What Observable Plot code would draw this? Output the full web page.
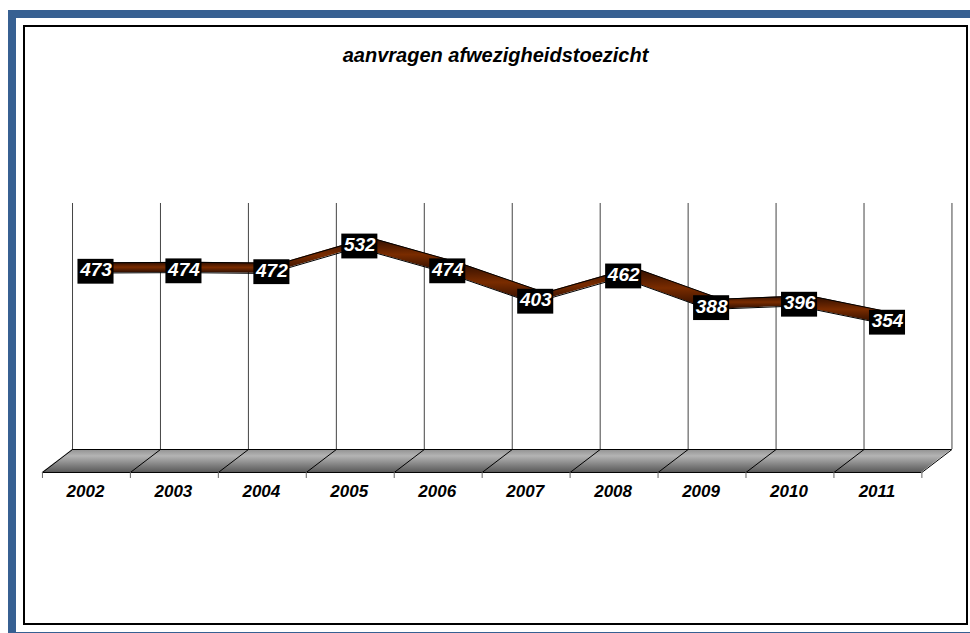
<!DOCTYPE html>
<html><head><meta charset="utf-8">
<script src="https://cdn.jsdelivr.net/npm/d3@7"></script>
<script src="https://cdn.jsdelivr.net/npm/@observablehq/plot@0.6"></script>
<style>
html,body{margin:0;padding:0;background:#fff;width:970px;height:633px;overflow:hidden;font-family:"Liberation Sans",Arial,sans-serif}
.b{position:absolute;background:#376092}
#frame{position:absolute;left:23px;top:25px;width:941px;height:596px;border:2px solid #000}
#title{position:absolute;left:23px;width:945px;top:44px;text-align:center;font:italic bold 20px "Liberation Sans",Arial,sans-serif;color:#000}
svg{position:absolute;left:0;top:0;background:transparent}
</style></head><body>
<div class="b" style="left:8px;top:10px;width:8px;height:623px"></div>
<div class="b" style="left:8px;top:10px;width:962px;height:8px"></div>
<div class="b" style="left:8px;top:632px;width:962px;height:1px"></div>
<div id="frame"></div>
<div id="title">aanvragen afwezigheidstoezicht</div>
<div id="chart"></div>
<script>
const years = [2002,2003,2004,2005,2006,2007,2008,2009,2010,2011];
const values = [473,474,472,532,474,403,462,388,396,354];

// depth of the pseudo-3D box, in scale units
const backX = -0.267, frontX = -0.609, labelX = -0.12;
const ribbonFrontX = -0.03, ribbonBackX = 0.11, ribbonFrontY = -3, ribbonBackY = 21;
const floorFront = 4, floorBack = 57.7, wallTop = 632.5, tickEnd = -10;
const labelW = 0.205, labelH = 29;

const edges = [...years, years[years.length-1]+1];
const segs = [];
for (let i=0;i<years.length-1;i++){
  for (const j of [i,i+1]) segs.push({s:i,x1:years[j]+ribbonFrontX,y1:values[j]+ribbonFrontY,x2:years[j]+ribbonBackX,y2:values[j]+ribbonBackY});
}
const ribbonOutline = [];
for (let i=0;i<years.length-1;i++){
  ribbonOutline.push({x1:years[i]+ribbonFrontX,y1:values[i]+ribbonFrontY,x2:years[i+1]+ribbonFrontX,y2:values[i+1]+ribbonFrontY});
  ribbonOutline.push({x1:years[i]+ribbonBackX,y1:values[i]+ribbonBackY,x2:years[i+1]+ribbonBackX,y2:values[i+1]+ribbonBackY});
}
const floor = [
 {x1:edges[0]+frontX,y1:floorFront,x2:edges[0]+backX,y2:floorBack},
 {x1:edges[10]+frontX,y1:floorFront,x2:edges[10]+backX,y2:floorBack}
];
const defs = () => {
  const s = d3.create("svg:defs");
  const g1 = s.append("linearGradient").attr("id","ribbon").attr("x1",0).attr("y1",0).attr("x2",0).attr("y2",1);
  [[0,"#2a0c00"],[.5,"#7a2c00"],[1,"#2a0c00"]].forEach(([o,c])=>g1.append("stop").attr("offset",o).attr("stop-color",c));
  const g2 = s.append("linearGradient").attr("id","floor").attr("x1",0).attr("y1",0).attr("x2",0).attr("y2",1);
  [[0,"#909090"],[.3,"#b4b4b4"],[1,"#5a5a5a"]].forEach(([o,c])=>g2.append("stop").attr("offset",o).attr("stop-color",c));
  return s.node();
};
const chart = Plot.plot({
  width:970,height:633,margin:0,
  style:{background:"transparent",fontFamily:"'Liberation Sans',Arial,sans-serif"},
  x:{type:"linear",domain:[2002,2011],range:[95.5,887],axis:null},
  y:{type:"linear",domain:[0,600],range:[473.7,216.9],axis:null},
  marks:[
    defs,
    Plot.ruleX(edges,{x:d=>d+backX,y1:floorBack,y2:wallTop,stroke:"#444",strokeWidth:1}),
    Plot.area(floor,{x1:"x1",y1:"y1",x2:"x2",y2:"y2",fill:"url(#floor)",curve:"linear"}),
    Plot.link(edges,{x1:d=>d+frontX,x2:d=>d+backX,y1:floorFront,y2:floorBack,stroke:"#000",strokeWidth:1}),
    Plot.ruleY([floorFront],{x1:edges[0]+frontX,x2:edges[10]+frontX,stroke:"#000",strokeWidth:1}),
    Plot.ruleY([floorBack],{x1:edges[0]+backX,x2:edges[10]+backX,stroke:"#000",strokeWidth:1}),
    Plot.ruleX(edges,{x:d=>d+frontX,y1:tickEnd,y2:floorFront,stroke:"#666",strokeWidth:1}),
    Plot.text(years,{x:d=>d+labelX,y:-40,text:d=>String(d),fontSize:17,fontWeight:"bold",fontStyle:"italic",fill:"#000"}),
    Plot.area(segs,{z:"s",x1:"x1",y1:"y1",x2:"x2",y2:"y2",fill:"url(#ribbon)",curve:"linear"}),
    Plot.link(ribbonOutline,{x1:"x1",y1:"y1",x2:"x2",y2:"y2",stroke:"#000",strokeWidth:1,curve:"linear"}),
    Plot.rect(values,{x1:(d,i)=>years[i]-labelW,x2:(d,i)=>years[i]+labelW,y1:d=>d-labelH,y2:d=>d+labelH,fill:"#000"}),
    Plot.text(values,{x:(d,i)=>years[i],y:d=>d+4,text:d=>String(d),fontSize:19,fontWeight:"bold",fontStyle:"italic",fill:"#fff"})
  ]
});
document.getElementById("chart").appendChild(chart);
</script>
</body></html>
